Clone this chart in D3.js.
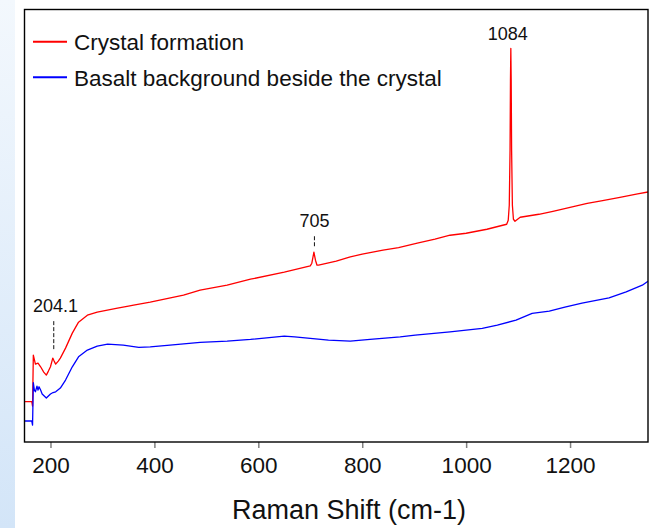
<!DOCTYPE html>
<html>
<head>
<meta charset="utf-8">
<script src="https://cdn.jsdelivr.net/npm/d3@7/dist/d3.min.js"></script>
<style>
  html, body { margin: 0; padding: 0; background: #fff; }
  svg { display: block; font-family: "Liberation Sans", Arial, sans-serif; }
</style>
</head>
<body>
<script>
// ---- data (Raman shift in cm-1, intensity in arbitrary counts) ----
const xTicks = [200, 400, 600, 800, 1000, 1200];
const seriesNames = ["Crystal formation", "Basalt background beside the crystal"];
const seriesColors = ["#ff0000", "#0000ff"];

const crystalShift = [150,164,165.5,167,171,176,181,187,192,196,200,204.4,207,210,215,219,229,242,254,271,290,329,350,360,392,456,488,540,585,650,700,703,707,710,713,716,750,777,800,840,870,906,940,969,1000,1040,1078,1081,1083,1084.5,1085.3,1086,1086.7,1087.5,1089,1091,1094,1104,1140,1167,1200,1233,1260,1296,1330,1350];
const crystalIntensity = [810,810,720,1740,1560,1580,1506,1400,1340,1420,1506,1680,1620,1560,1620,1680,1880,2180,2400,2540,2600,2680,2720,2740,2800,2940,3040,3140,3260,3400,3526,3580,3800,3640,3540,3540,3620,3706,3760,3840,3890,3980,4060,4140,4180,4260,4360,4440,4740,5840,7240,7880,7240,5840,4740,4460,4420,4500,4560,4620,4700,4780,4830,4900,4970,5006];

const basaltShift = [150,164,165.5,167,169,171,174,176,178,181,184,188,192,196,200,205,210,219,229,242,254,271,290,310,340,370,392,430,488,540,585,650,670,735,777,815,873,902,969,1031,1060,1096,1127,1160,1190,1223,1275,1308,1339,1350];
const basaltIntensity = [420,420,340,1186,1040,1006,1120,1040,1106,1040,960,920,880,920,960,990,1006,1080,1240,1506,1706,1840,1920,1960,1940,1894,1906,1940,1994,2020,2054,2120,2106,2040,2020,2054,2106,2140,2206,2274,2340,2440,2574,2620,2700,2780,2886,3006,3140,3220];

const peakLabels = ["204.1", "705", "1084"];
const peakLabelShift = [209.6, 708, 1080];
const peakMarkerShift = [206.3, 708, null];
const peakMarkerTop = [2420, 4120, null];
const peakMarkerBottom = [1820, 3900, null];
const peakLabelIntensity = [2606, 4306, 8054];

const xDomain = [150, 1350];
const yDomain = [0, 8660];

// ---- drawing ----
const W = 653, H = 528;
const L = 24.5, R = 648, T = 9.5, B = 442;

const svg = d3.select("body").append("svg").attr("width", W).attr("height", H);

const defs = svg.append("defs");
const grad = defs.append("linearGradient").attr("id", "strip").attr("x1", 0).attr("y1", 0).attr("x2", 0).attr("y2", 1);
grad.append("stop").attr("offset", "0%").attr("stop-color", "#f3f8fd");
grad.append("stop").attr("offset", "100%").attr("stop-color", "#d3e5f8");
svg.append("rect").attr("x", 0).attr("y", 0).attr("width", 15).attr("height", H).attr("fill", "url(#strip)");

defs.append("clipPath").attr("id", "plotclip").append("rect")
  .attr("x", L).attr("y", T).attr("width", R - L).attr("height", B - T);

const x = d3.scaleLinear().domain(xDomain).range([L, R]);
const y = d3.scaleLinear().domain(yDomain).range([B, T]);

// axis
const axis = svg.append("g").attr("transform", `translate(0,${B})`)
  .call(d3.axisBottom(x).tickValues(xTicks).tickSize(6).tickFormat(d3.format("d")));
axis.select(".domain").remove();
axis.selectAll(".tick line").attr("stroke", "#808080").attr("stroke-width", 1.5);
axis.selectAll(".tick text").attr("y", 31).attr("dy", 0)
  .attr("font-size", 22.5).attr("fill", "#111").attr("font-family", "Liberation Sans, Arial, sans-serif");

svg.append("text").attr("x", (231.5 + 466.5) / 2).attr("y", 519)
  .attr("text-anchor", "middle").attr("font-size", 27).attr("fill", "#111")
  .text("Raman Shift (cm-1)");

// series
const line = d3.line().x(d => x(d[0])).y(d => y(d[1]));
const series = [
  d3.zip(crystalShift, crystalIntensity),
  d3.zip(basaltShift, basaltIntensity)
];
const plot = svg.append("g").attr("clip-path", "url(#plotclip)");
series.forEach((s, i) => {
  plot.append("path").datum(s).attr("d", line)
    .attr("fill", "none").attr("stroke", seriesColors[i])
    .attr("stroke-width", 1.3).attr("stroke-linejoin", "round");
});

// peak annotations
peakLabels.forEach((lab, i) => {
  svg.append("text").attr("x", x(peakLabelShift[i])).attr("y", y(peakLabelIntensity[i]))
    .attr("text-anchor", "middle").attr("font-size", 18).attr("fill", "#111").text(lab);
  if (peakMarkerShift[i] !== null) {
    svg.append("line")
      .attr("x1", x(peakMarkerShift[i])).attr("x2", x(peakMarkerShift[i]))
      .attr("y1", y(peakMarkerTop[i])).attr("y2", y(peakMarkerBottom[i]))
      .attr("stroke", "#111").attr("stroke-width", 1).attr("stroke-dasharray", "4,2");
  }
});

// legend
seriesNames.forEach((name, i) => {
  const ly = 41.7 + i * 35.6;
  svg.append("line").attr("x1", 33).attr("x2", 67).attr("y1", ly).attr("y2", ly)
    .attr("stroke", seriesColors[i]).attr("stroke-width", 2);
  svg.append("text").attr("x", 74).attr("y", ly + 8.3)
    .attr("font-size", 22.5).attr("fill", "#111").text(name);
});

// frame
svg.append("rect").attr("x", L).attr("y", T).attr("width", R - L).attr("height", B - T)
  .attr("fill", "none").attr("stroke", "#000").attr("stroke-width", 1.4);
</script>
</body>
</html>
